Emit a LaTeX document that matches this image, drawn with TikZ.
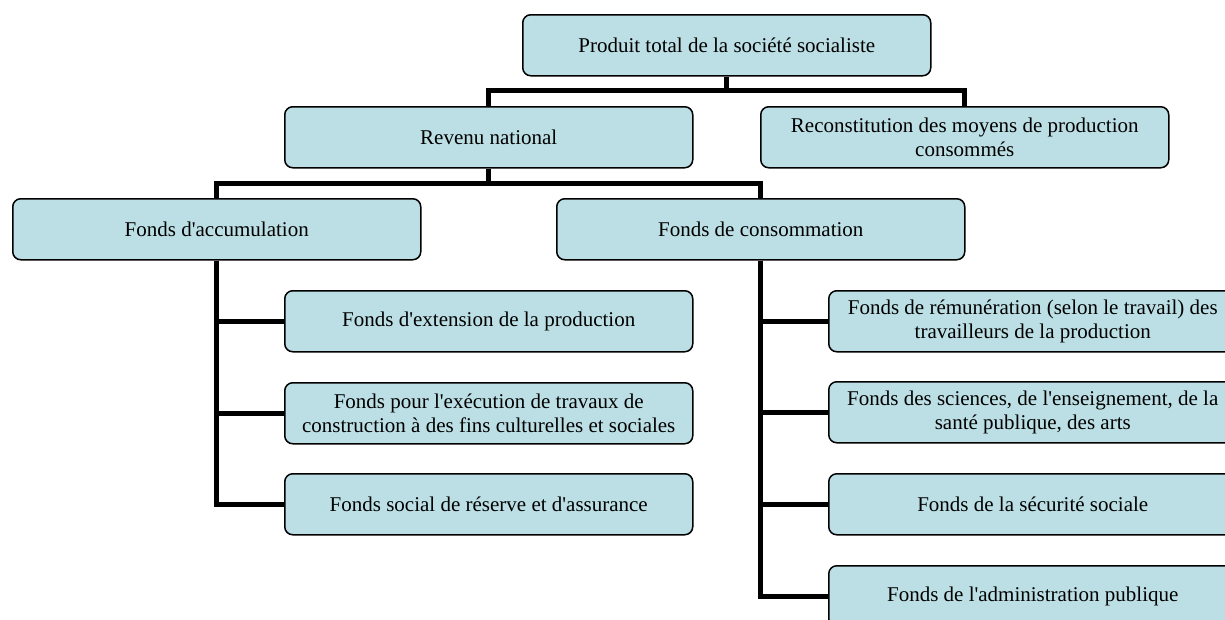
\documentclass[tikz,border=0pt]{standalone}
\usepackage{fontspec}
\setmainfont{Liberation Serif}
\definecolor{boxfill}{RGB}{187,223,228}
\newcommand\ap{\textquotesingle}
\begin{document}
\begin{tikzpicture}[x=1pt,y=-1pt,
  box/.style={draw=black, line width=1.5pt, fill=boxfill, rounded corners=8pt,
    anchor=north west, inner sep=0pt, align=center,
    minimum width=408pt, minimum height=61pt,
    font=\fontsize{21}{24}\selectfont},
  conn/.style={draw=black, line width=5pt, line join=miter}]
\useasboundingbox (0,0) rectangle (1225,619);
\clip (0,0) rectangle (1225,619);
\fill[white] (0,0) rectangle (1225,619);
\node[box] (top) at (522,14) {Produit total de la société socialiste};
\node[box] (rev) at (284,106) {Revenu national};
\node[box] (rec) at (760,106) {Reconstitution des moyens de production\\consommés};
\node[box] (acc) at (12,198) {Fonds d\ap accumulation};
\node[box] (con) at (556,198) {Fonds de consommation};
\node[box] (a1) at (284,290) {Fonds d\ap extension de la production};
\node[box] (a2) at (284,382) {Fonds pour l\ap exécution de travaux de\\construction à des fins culturelles et sociales};
\node[box] (a3) at (284,473) {Fonds social de réserve et d\ap assurance};
\node[box] (c1) at (828,290) {Fonds de rémunération (selon le travail) des\\travailleurs de la production};
\node[box] (c2) at (828,381) {Fonds des sciences, de l\ap enseignement, de la\\santé publique, des arts};
\node[box] (c3) at (828,473) {Fonds de la sécurité sociale};
\node[box] (c4) at (828,565) {Fonds de l\ap administration publique};
\draw[conn] (top.south) -- ++(0,15);
\draw[conn] (rev.north) -- ++(0,-16) -| (rec.north);
\draw[conn] (rev.south) -- ++(0,16);
\draw[conn] (acc.north) -- ++(0,-15) -| (con.north);
\draw[conn] (acc.south) |- (a3.west);
\draw[conn] (acc.south |- a1.west) -- (a1.west);
\draw[conn] (acc.south |- a2.west) -- (a2.west);
\draw[conn] (con.south) |- (c4.west);
\draw[conn] (con.south |- c1.west) -- (c1.west);
\draw[conn] (con.south |- c2.west) -- (c2.west);
\draw[conn] (con.south |- c3.west) -- (c3.west);
\end{tikzpicture}
\end{document}
